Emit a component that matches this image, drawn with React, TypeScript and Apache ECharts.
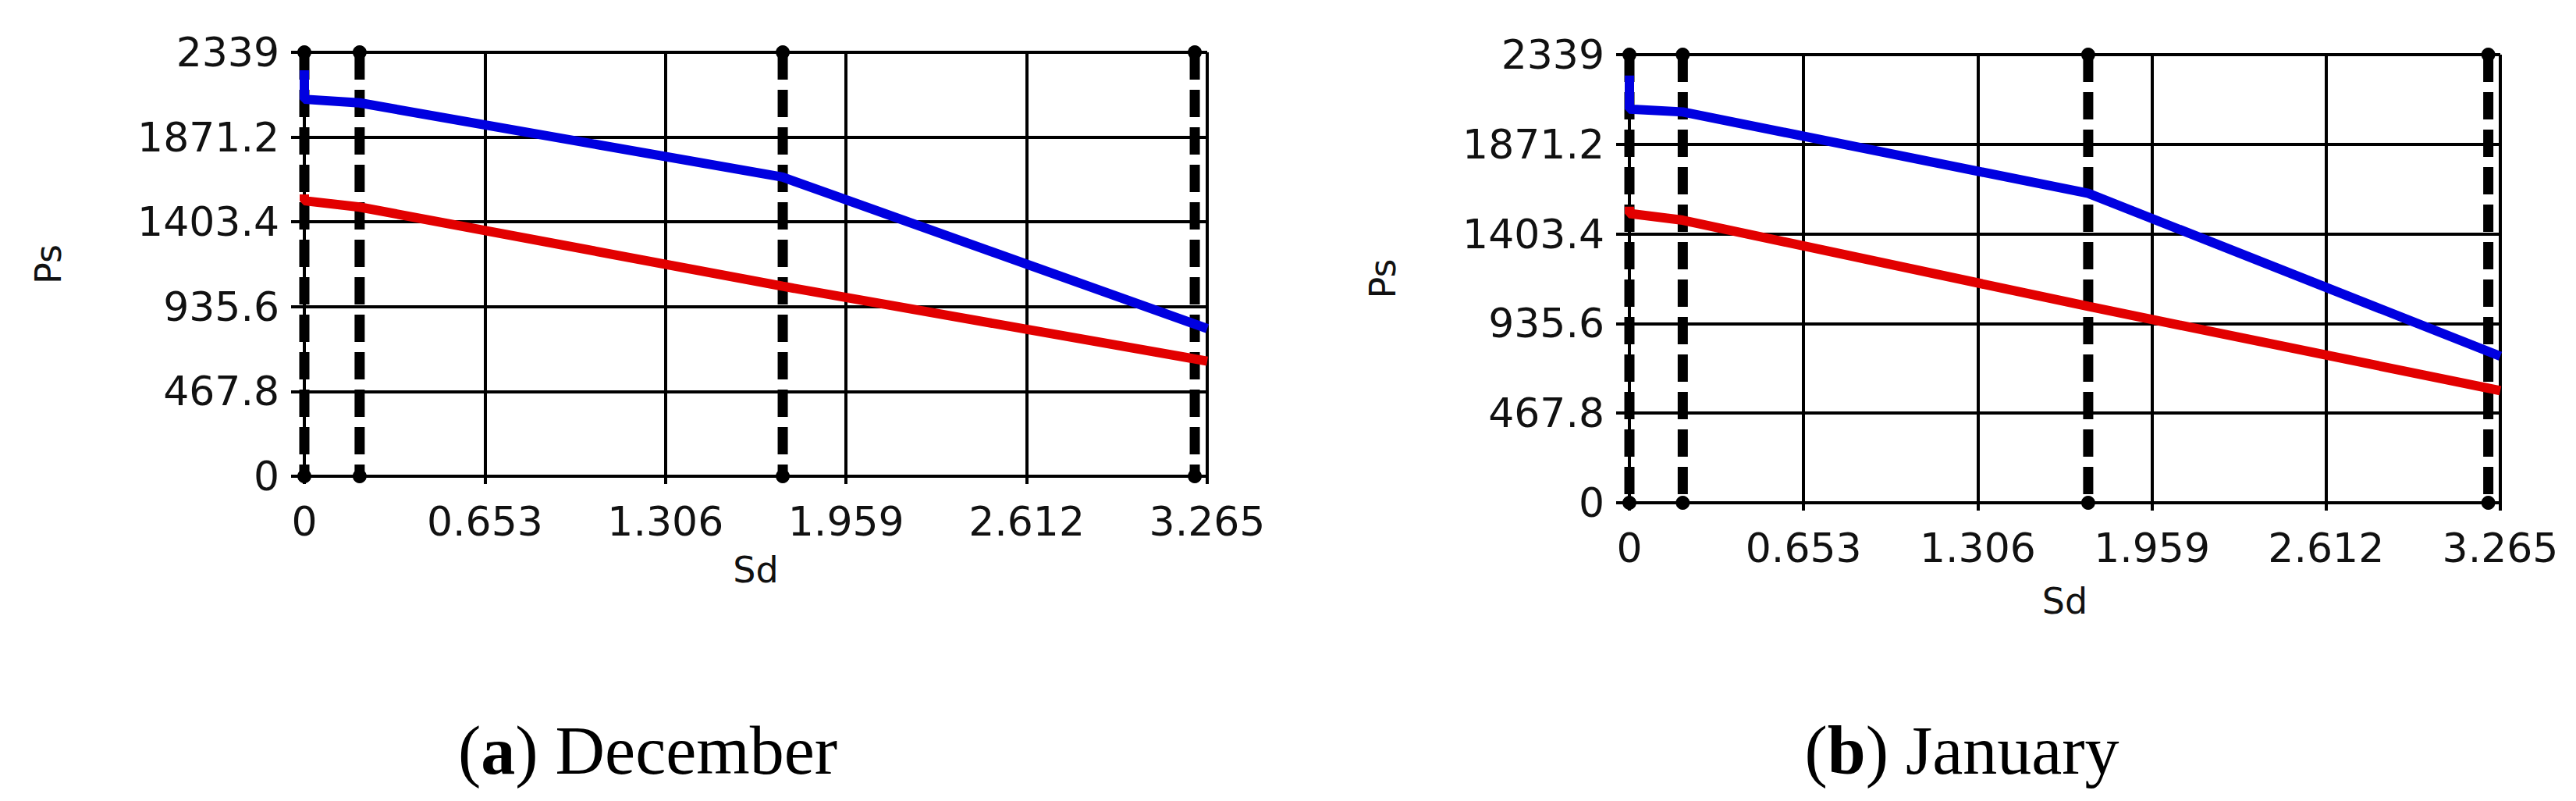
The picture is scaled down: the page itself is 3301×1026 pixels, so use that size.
import { useEffect, useRef } from 'react'
import * as echarts from 'echarts'

// axis ticks (Sd horizontal, Ps vertical)
const sdTicks = ['0', '0.653', '1.306', '1.959', '2.612', '3.265']
const psTicks = ['0', '467.8', '935.6', '1403.4', '1871.2', '2339']
const SD_STEP = 0.653
const PS_STEP = 467.8

// (a) December
const decUpper = [[0, 2240], [0, 2080], [0.2, 2060], [1.73, 1650], [3.265, 815]]
const decLower = [[0, 1555], [0, 1520], [0.2, 1485], [1.73, 1048], [3.265, 635]]
const decMarkers = [0, 0.2, 1.73, 3.22]

// (b) January
const janUpper = [[0, 2230], [0, 2055], [0.2, 2040], [1.72, 1615], [3.265, 765]]
const janLower = [[0, 1545], [0, 1510], [0.2, 1475], [1.72, 1025], [3.265, 585]]
const janMarkers = [0, 0.2, 1.72, 3.22]

const captions = [
  { tag: 'a', label: 'December', x: 830 },
  { tag: 'b', label: 'January', x: 2514 }
]

const LABEL_FONT = 'DejaVu Sans'

function tickLabel(ticks: string[], step: number) {
  return (v: number) => ticks[Math.round(v / step)] ?? ''
}

function xAxisFor(gridIndex: number, nameGap: number) {
  return {
    type: 'value',
    gridIndex,
    min: 0,
    max: Number(sdTicks[sdTicks.length - 1]),
    interval: SD_STEP,
    name: 'Sd',
    nameLocation: 'middle',
    nameGap,
    nameTextStyle: { color: '#111', fontSize: 46, fontFamily: LABEL_FONT },
    axisLine: { show: true, onZero: false, lineStyle: { color: '#000', width: 4 } },
    axisTick: { show: true, inside: false, length: 10, lineStyle: { color: '#000', width: 4 } },
    axisLabel: {
      color: '#111',
      fontSize: 52,
      fontFamily: LABEL_FONT,
      margin: 32,
      formatter: tickLabel(sdTicks, SD_STEP)
    },
    splitLine: { show: true, lineStyle: { color: '#000', width: 4 } }
  }
}

function yAxisFor(gridIndex: number, nameGap: number) {
  return {
    type: 'value',
    gridIndex,
    min: 0,
    max: Number(psTicks[psTicks.length - 1]),
    interval: PS_STEP,
    name: 'Ps',
    nameLocation: 'middle',
    nameGap,
    nameTextStyle: { color: '#111', fontSize: 46, fontFamily: LABEL_FONT },
    axisLine: { show: true, onZero: false, lineStyle: { color: '#000', width: 4 } },
    axisTick: { show: true, inside: false, length: 17, lineStyle: { color: '#000', width: 4 } },
    axisLabel: {
      color: '#111',
      fontSize: 52,
      fontFamily: LABEL_FONT,
      margin: 32,
      formatter: tickLabel(psTicks, PS_STEP)
    },
    splitLine: { show: true, lineStyle: { color: '#000', width: 4 } }
  }
}

function seriesFor(idx: number, upper: number[][], lower: number[][], markers: number[]) {
  const psMax = Number(psTicks[psTicks.length - 1])
  const dashed = markers.map((x) => ({
    type: 'line',
    xAxisIndex: idx,
    yAxisIndex: idx,
    data: [[x, psMax], [x, 0]],
    symbol: 'circle',
    symbolSize: 18,
    showSymbol: true,
    clip: false,
    silent: true,
    z: 3,
    itemStyle: { color: '#000' },
    lineStyle: { color: '#000', width: 13, type: [35, 13] }
  }))
  const curve = (data: number[][], color: string) => ({
    type: 'line',
    xAxisIndex: idx,
    yAxisIndex: idx,
    data,
    symbol: 'none',
    clip: false,
    silent: true,
    z: 4,
    lineStyle: { color, width: 12 }
  })
  return [...dashed, curve(upper, '#0000e0'), curve(lower, '#e20000')]
}

export default function App(): JSX.Element {
  const chartRef = useRef<HTMLDivElement>(null)

  useEffect(() => {
    if (!chartRef.current) return
    const chart = echarts.init(chartRef.current, null, { renderer: 'svg' })

    const option = {
      animation: false,
      backgroundColor: '#ffffff',
      grid: [
        { left: 390, top: 67, width: 1157, height: 543 },
        { left: 2088, top: 70, width: 1116, height: 574 }
      ],
      xAxis: [xAxisFor(0, 97), xAxisFor(1, 103)],
      yAxis: [yAxisFor(0, 305), yAxisFor(1, 293)],
      series: [
        ...seriesFor(0, decUpper, decLower, decMarkers),
        ...seriesFor(1, janUpper, janLower, janMarkers)
      ],
      graphic: captions.map((c) => ({
        type: 'text',
        x: c.x,
        y: 961,
        style: {
          text: `({b|${c.tag}}) ${c.label}`,
          fill: '#000',
          font: '88px "Liberation Serif", serif',
          align: 'center',
          verticalAlign: 'middle',
          rich: {
            b: { fontWeight: 'bold', fontSize: 88, fontFamily: 'Liberation Serif', fill: '#000' }
          }
        }
      }))
    }

    chart.setOption(option as any)

    return () => {
      chart.dispose()
    }
  }, [])

  return (
    <div
      ref={chartRef}
      style={{ position: 'absolute', left: 0, top: 0, width: 3301, height: 1026 }}
    />
  )
}
